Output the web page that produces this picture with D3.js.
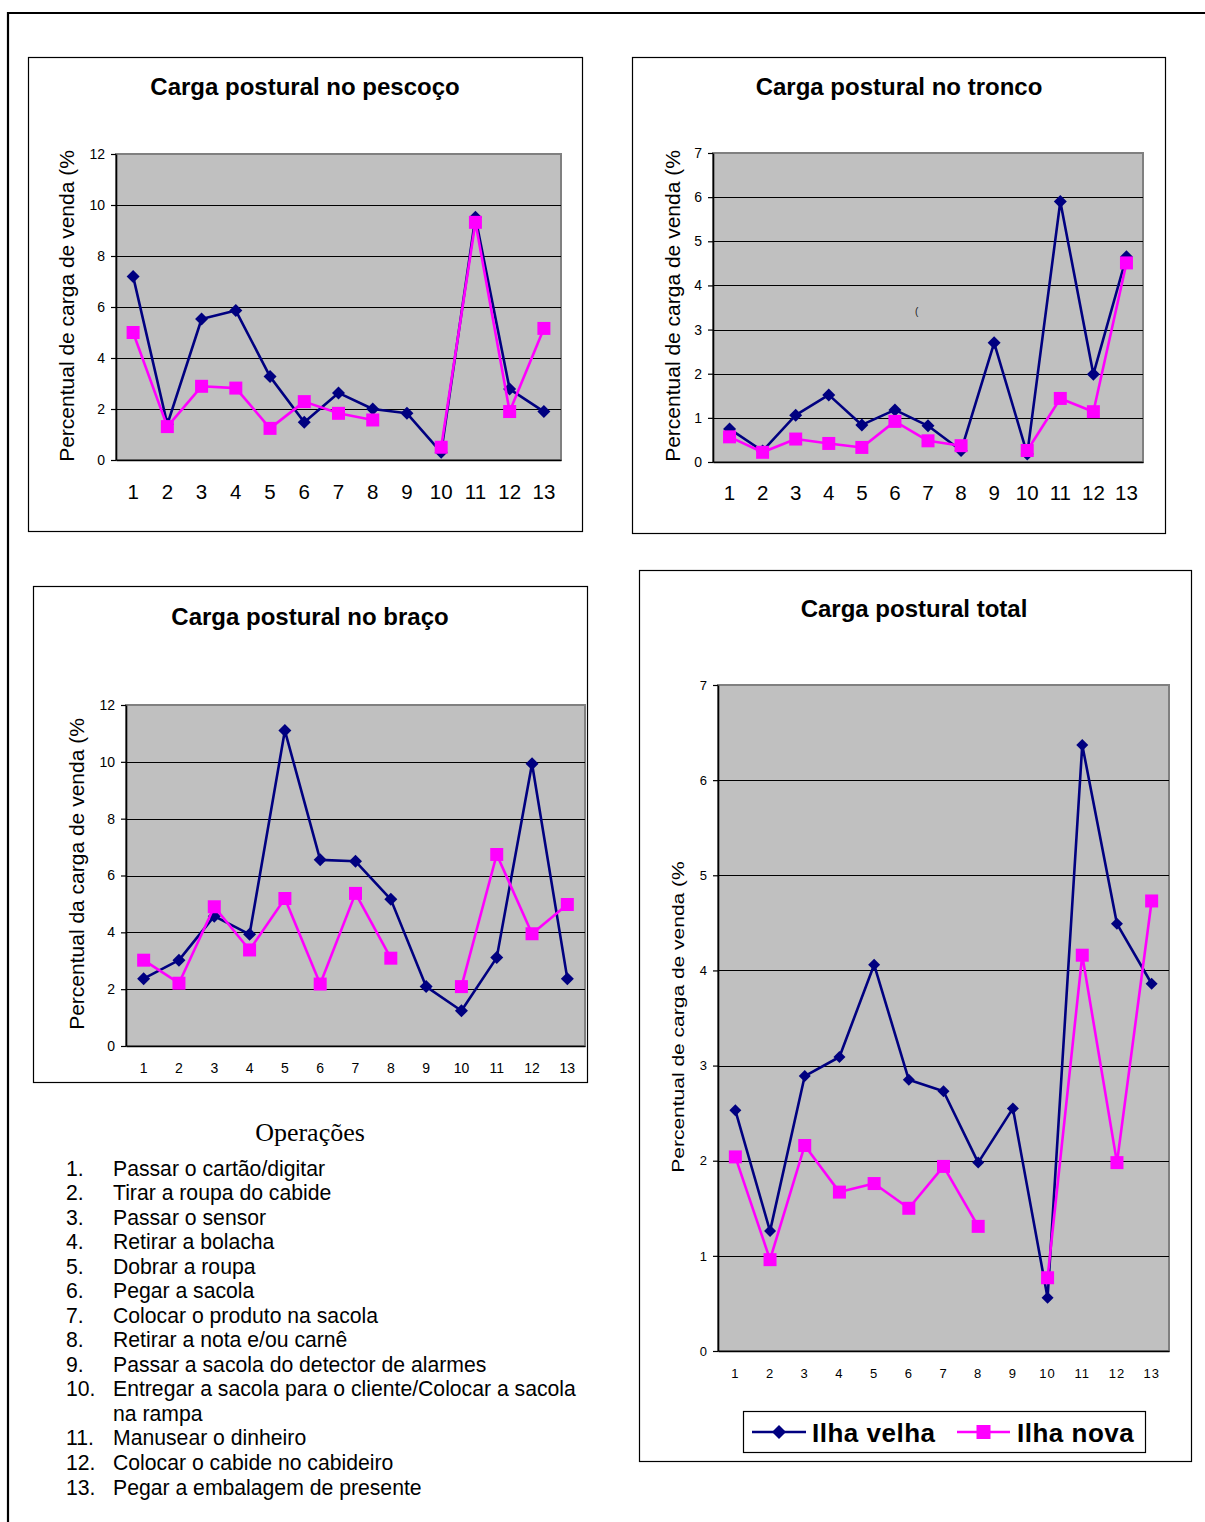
<!DOCTYPE html>
<html>
<head>
<meta charset="utf-8">
<script src="https://cdn.jsdelivr.net/npm/d3@7"></script>
<style>
  html, body { margin: 0; padding: 0; background: #fff; }
  svg { display: block; }
</style>
</head>
<body>
<svg id="page" width="1205" height="1522"></svg>
<script>
// ---- data -------------------------------------------------------------
const categories = ["1","2","3","4","5","6","7","8","9","10","11","12","13"];
const seriesNames = ["Ilha velha", "Ilha nova"];

const pescocoVelha = [7.2, 1.4, 5.53, 5.86, 3.27, 1.48, 2.63, 2.0, 1.83, 0.3, 9.52, 2.78, 1.9];
const pescocoNova  = [5.0, 1.31, 2.89, 2.82, 1.24, 2.29, 1.83, 1.57, null, 0.5, 9.32, 1.9, 5.16];

const troncoVelha = [0.75, 0.25, 1.06, 1.52, 0.84, 1.18, 0.82, 0.26, 2.7, 0.18, 5.9, 1.99, 4.65];
const troncoNova  = [0.57, 0.22, 0.52, 0.42, 0.33, 0.92, 0.48, 0.37, null, 0.26, 1.44, 1.14, 4.51];

const bracoVelha = [2.37, 3.02, 4.57, 3.93, 11.1, 6.55, 6.5, 5.16, 2.09, 1.24, 3.11, 9.93, 2.37];
const bracoNova  = [3.02, 2.21, 4.9, 3.38, 5.19, 2.18, 5.37, 3.09, null, 2.09, 6.74, 3.95, 4.98];

const totalVelha = [2.53, 1.26, 2.89, 3.09, 4.06, 2.85, 2.73, 1.98, 2.55, 0.56, 6.37, 4.49, 3.86];
const totalNova  = [2.04, 0.96, 2.16, 1.67, 1.76, 1.50, 1.94, 1.31, null, 0.77, 4.16, 1.98, 4.73];

const yTicksPescoco = [0, 2, 4, 6, 8, 10, 12];
const yTicksTronco  = [0, 1, 2, 3, 4, 5, 6, 7];
const yTicksBraco   = [0, 2, 4, 6, 8, 10, 12];
const yTicksTotal   = [0, 1, 2, 3, 4, 5, 6, 7];

const chartTitles = ["Carga postural no pescoço", "Carga postural no tronco",
                     "Carga postural no braço", "Carga postural total"];
const axisTitles  = ["Percentual de carga de venda (%", "Percentual de carga de venda (%",
                     "Percentual da carga de venda (%", "Percentual de carga de venda (%"];

const operacoesTitulo = "Operações";
const operacoes = [
  ["Passar o cartão/digitar"],
  ["Tirar a roupa do cabide"],
  ["Passar o sensor"],
  ["Retirar a bolacha"],
  ["Dobrar a roupa"],
  ["Pegar a sacola"],
  ["Colocar o produto na sacola"],
  ["Retirar a nota e/ou carnê"],
  ["Passar a sacola do detector de alarmes"],
  ["Entregar a sacola para o cliente/Colocar a sacola", "na rampa"],
  ["Manusear o dinheiro"],
  ["Colocar o cabide no cabideiro"],
  ["Pegar a embalagem de presente"]
];

// ---- styling ----------------------------------------------------------
const FONT = "Arial, 'Liberation Sans', Helvetica, sans-serif";
const SERIF = "'Times New Roman', 'Liberation Serif', serif";
const COLOR_VELHA = "#000080";
const COLOR_NOVA = "#FF00FF";
const PLOT_BG = "#C0C0C0";

const svg = d3.select("#page");

// page frame (top and left rules)
svg.append("path")
  .attr("d", "M8,1522 V13 H1205")
  .attr("fill", "none").attr("stroke", "#000").attr("stroke-width", 2.2);

function diamondPath(cx, cy, r) {
  return `M${cx},${cy - r}L${cx + r},${cy}L${cx},${cy + r}L${cx - r},${cy}Z`;
}
function squarePath(cx, cy, s) {
  const h = s / 2;
  return `M${cx - h},${cy - h}H${cx + h}V${cy + h}H${cx - h}Z`;
}

const panels = [
  { title: chartTitles[0], yTitle: axisTitles[0], velha: pescocoVelha, nova: pescocoNova, yTicks: yTicksPescoco,
    box: [28, 57, 582, 531], plot: [116, 154, 561, 460], titleX: 305, titleY: 95,
    yTitleX: 73.5, yTitleY: 306, yTitleScale: 1, tickFont: 14, tickPad: 6, catFont: 20.5, catPad: 24, catSpacing: 0,
    dia: 6.5, sq: 13 },
  { title: chartTitles[1], yTitle: axisTitles[1], velha: troncoVelha, nova: troncoNova, yTicks: yTicksTronco,
    box: [632, 57, 1165, 533], plot: [713, 153, 1143, 462], titleX: 899, titleY: 95,
    yTitleX: 679.5, yTitleY: 306, yTitleScale: 1, tickFont: 14, tickPad: 6, catFont: 20.5, catPad: 23, catSpacing: 0,
    dia: 6.5, sq: 13 },
  { title: chartTitles[2], yTitle: axisTitles[2], velha: bracoVelha, nova: bracoNova, yTicks: yTicksBraco,
    box: [33, 586, 587, 1082], plot: [126, 705, 585, 1046], titleX: 310, titleY: 625,
    yTitleX: 83.5, yTitleY: 874, yTitleScale: 1, tickFont: 14, tickPad: 6, catFont: 14, catPad: 17, catSpacing: 0,
    dia: 6.5, sq: 13 },
  { title: chartTitles[3], yTitle: axisTitles[3], velha: totalVelha, nova: totalNova, yTicks: yTicksTotal,
    box: [639, 570, 1191, 1461], plot: [718, 685, 1169, 1351], titleX: 914, titleY: 617,
    yTitleX: 683.5, yTitleY: 1017, yTitleScale: 0.8, tickFont: 13, tickPad: 6, catFont: 13, catPad: 18, catSpacing: 1,
    dia: 6, sq: 13, legend: true }
];

function drawPanel(p) {
  const g = svg.append("g");
  const [bx0, by0, bx1, by1] = p.box;
  const [pl, pt, pr, pb] = p.plot;

  // chart frame
  g.append("rect")
    .attr("x", bx0 + 0.5).attr("y", by0 + 0.5)
    .attr("width", bx1 - bx0).attr("height", by1 - by0)
    .attr("fill", "#fff").attr("stroke", "#000").attr("stroke-width", 1.2);

  // title
  g.append("text")
    .attr("x", p.titleX).attr("y", p.titleY)
    .attr("text-anchor", "middle")
    .attr("font-family", FONT).attr("font-weight", "bold").attr("font-size", 24)
    .text(p.title);

  const x = d3.scaleBand().domain(categories).range([pl, pr]);
  const y = d3.scaleLinear().domain([0, d3.max(p.yTicks)]).range([pb, pt]);
  const cx = (i) => x(categories[i]) + x.bandwidth() / 2;

  // plot area
  g.append("rect")
    .attr("x", pl).attr("y", pt).attr("width", pr - pl).attr("height", pb - pt)
    .attr("fill", PLOT_BG).attr("stroke", "#808080").attr("stroke-width", 2);

  // gridlines
  g.append("g").selectAll("line")
    .data(p.yTicks.filter(t => t > 0 && t < d3.max(p.yTicks)))
    .join("line")
    .attr("x1", pl).attr("x2", pr)
    .attr("y1", d => Math.round(y(d)) + 0.5).attr("y2", d => Math.round(y(d)) + 0.5)
    .attr("stroke", "#000").attr("stroke-width", 1);

  // y axis
  const ya = g.append("g")
    .attr("transform", `translate(${pl},0)`)
    .call(d3.axisLeft(y).tickValues(p.yTicks).tickFormat(d3.format("d"))
      .tickSize(5).tickSizeOuter(0).tickPadding(p.tickPad));
  ya.attr("font-family", FONT).attr("font-size", p.tickFont);
  ya.select(".domain").attr("stroke", "#000").attr("stroke-width", 1.6);
  ya.selectAll(".tick line").attr("stroke", "#000").attr("stroke-width", 1.2);
  ya.selectAll(".tick text").attr("fill", "#000");

  // x axis
  const xa = g.append("g")
    .attr("transform", `translate(0,${pb})`)
    .call(d3.axisBottom(x).tickSize(0).tickSizeOuter(0).tickPadding(p.catPad));
  xa.attr("font-family", FONT).attr("font-size", p.catFont);
  xa.select(".domain").attr("stroke", "#000").attr("stroke-width", 1.6);
  xa.selectAll(".tick text").attr("fill", "#000").attr("letter-spacing", p.catSpacing);

  // y axis title
  g.append("text")
    .attr("transform", `translate(${p.yTitleX},${p.yTitleY}) rotate(-90) scale(1,${p.yTitleScale})`)
    .attr("text-anchor", "middle")
    .attr("font-family", FONT).attr("font-size", 21)
    .text(p.yTitle);

  const line = d3.line()
    .defined(d => d.v != null)
    .x(d => cx(d.i)).y(d => y(d.v));

  const series = [
    { values: p.velha, color: COLOR_VELHA, marker: "diamond" },
    { values: p.nova, color: COLOR_NOVA, marker: "square" }
  ];
  series.forEach(s => {
    const pts = s.values.map((v, i) => ({ v, i }));
    g.append("path")
      .attr("d", line(pts))
      .attr("fill", "none").attr("stroke", s.color).attr("stroke-width", 2.6)
      .attr("stroke-linejoin", "round");
    g.append("g").selectAll("path")
      .data(pts.filter(d => d.v != null))
      .join("path")
      .attr("d", d => s.marker === "diamond"
        ? diamondPath(cx(d.i), y(d.v), p.dia)
        : squarePath(cx(d.i), y(d.v), p.sq))
      .attr("fill", s.color);
  });

  return { g, x, y };
}

const drawn = panels.map(drawPanel);

// stray mark inside the trunk chart
drawn[1].g.append("text")
  .attr("x", 915).attr("y", 315)
  .attr("font-family", FONT).attr("font-size", 10).attr("fill", "#222")
  .text("(");

// legend of the total chart
(function legend() {
  const g = drawn[3].g.append("g");
  g.append("rect")
    .attr("x", 743.5).attr("y", 1411.5).attr("width", 402).attr("height", 41)
    .attr("fill", "#fff").attr("stroke", "#000").attr("stroke-width", 1.2);
  const items = [
    { name: seriesNames[0], color: COLOR_VELHA, marker: "diamond", x0: 752, x1: 806, tx: 812 },
    { name: seriesNames[1], color: COLOR_NOVA, marker: "square", x0: 957, x1: 1010, tx: 1017 }
  ];
  const ly = 1432;
  items.forEach(it => {
    g.append("line").attr("x1", it.x0).attr("x2", it.x1).attr("y1", ly).attr("y2", ly)
      .attr("stroke", it.color).attr("stroke-width", 2.6);
    const mx = (it.x0 + it.x1) / 2;
    g.append("path")
      .attr("d", it.marker === "diamond" ? diamondPath(mx, ly, 7) : squarePath(mx, ly, 14))
      .attr("fill", it.color);
    g.append("text")
      .attr("x", it.tx).attr("y", ly + 9.5)
      .attr("font-family", FONT).attr("font-weight", "bold").attr("font-size", 26)
      .attr("letter-spacing", 0.5)
      .text(it.name);
  });
})();

// list of operations
(function operationsList() {
  const g = svg.append("g");
  g.append("text")
    .attr("x", 310).attr("y", 1141)
    .attr("text-anchor", "middle")
    .attr("font-family", SERIF).attr("font-size", 26)
    .text(operacoesTitulo);

  const lineH = 24.54;
  let row = 0;
  operacoes.forEach((lines, i) => {
    lines.forEach((txt, j) => {
      const by = 1175.5 + row * lineH;
      if (j === 0) {
        g.append("text")
          .attr("x", 66).attr("y", by)
          .attr("font-family", FONT).attr("font-size", 21.2)
          .text(`${i + 1}.`);
      }
      g.append("text")
        .attr("x", 113).attr("y", by)
        .attr("font-family", FONT).attr("font-size", 21.2)
        .text(txt);
      row++;
    });
  });
})();
</script>
</body>
</html>
